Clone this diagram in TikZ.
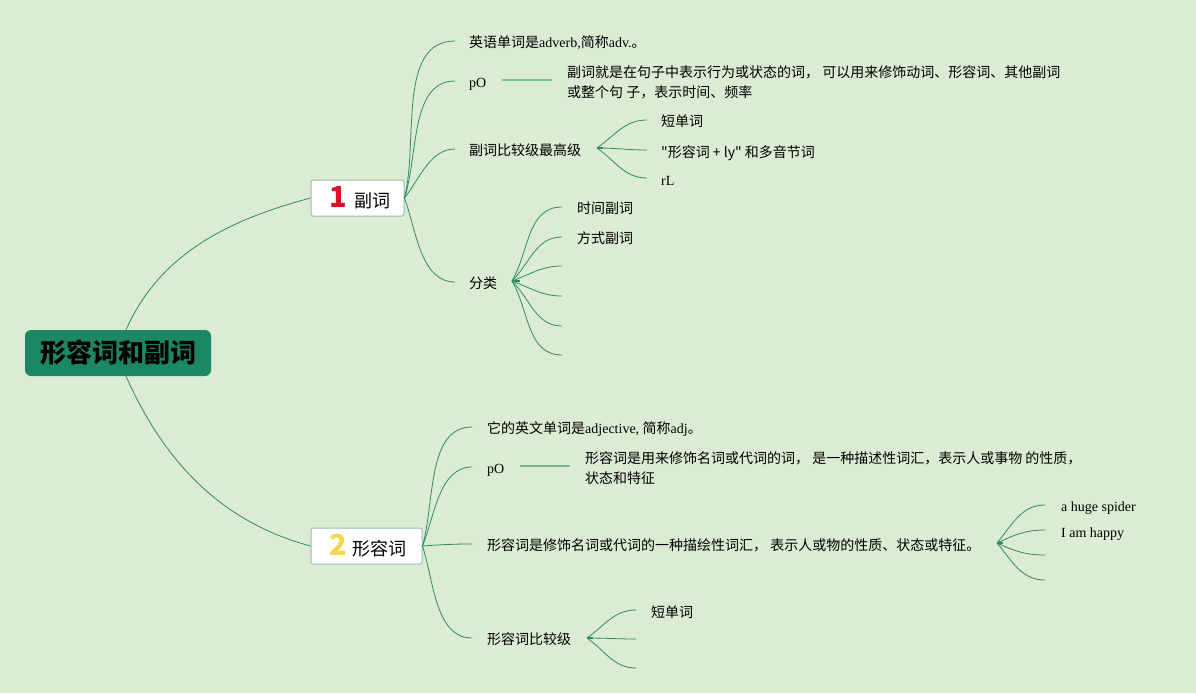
\documentclass[tikz,border=0pt]{standalone}
\usepackage{fontspec}
\setmainfont{Liberation Serif}
\newfontfamily\cjk{Noto Sans CJK SC}
\definecolor{bgc}{RGB}{220,235,211}
\definecolor{linkc}{RGB}{46,140,98}
\definecolor{rootc}{RGB}{27,135,100}
\definecolor{topicb}{RGB}{150,192,168}
\definecolor{poc}{RGB}{120,190,140}
\definecolor{redn}{RGB}{216,16,46}
\definecolor{yeln}{RGB}{242,214,75}
\begin{document}
\begin{tikzpicture}[x=1pt,y=1pt,
  txt/.style={anchor=west,inner sep=0pt,yshift=-2.5pt,text height=0.85em,text depth=0.12em,font=\fontsize{14}{20}\selectfont},
  ctxt/.style={txt,font=\fontsize{14}{20}\selectfont\cjk},
  para/.style={anchor=west,inner sep=0pt,yshift=-1.5pt,align=left,font=\fontsize{14}{20}\selectfont\cjk},
  link/.style={draw=linkc,line width=0.8pt},
  poline/.style={draw=poc,line width=1.6pt},
  stub/.style={draw=linkc,line width=2pt},
  topic/.style={draw=topicb,line width=1pt,fill=white,rounded corners=2pt,inner sep=0pt,minimum height=36pt},
  rootbox/.style={fill=rootc,rounded corners=6pt,inner sep=0pt,minimum width=186pt,minimum height=46pt,font=\fontsize{26}{30}\selectfont\cjk\bfseries}
]
\fill[bgc] (0,0) rectangle (1196,-693);
\useasboundingbox (0,0) rectangle (1196,-693);

% root and topics
\node[rootbox] (root) at (118,-353) {形容词和副词};
\node[topic,minimum width=93pt] (t1) at (357.5,-198) {\hspace*{5pt}{\fontsize{29}{29}\selectfont\cjk\bfseries\color{redn}1}\hspace{8pt}{\fontsize{18}{20}\selectfont\cjk 副词}};
\node[topic,minimum width=111pt] (t2) at (366.5,-546) {\hspace*{3pt}{\fontsize{29}{29}\selectfont\cjk\bfseries\color{yeln}2}\hspace{6pt}{\fontsize{18}{20}\selectfont\cjk 形容词}};

\draw[link] ([xshift=8pt]root.north) to[out=66,in=195,looseness=0.95] (t1.west);
\draw[link] ([xshift=8pt]root.south) to[out=-66,in=165,looseness=0.95] (t2.west);

% ---- branch 1 ----
\coordinate (a1e) at (455,-41);
\coordinate (a2e) at (455,-81);
\coordinate (a3e) at (455,-149);
\coordinate (a4e) at (455,-282);
\node[txt] (a1) at (469,-41) {{\cjk 英语单词是}adverb,{\cjk 简称}adv.{\cjk 。}};
\node[txt] (a2) at (469,-81) {pO};
\node[para] (a2d) at (567,-81) {副词就是在句子中表示行为或状态的词， 可以用来修饰动词、形容词、其他副词\\或整个句 子，表示时间、频率};
\node[ctxt] (a3) at (469,-149) {副词比较级最高级};
\node[ctxt] (a4) at (469,-282) {分类};

\draw[link] (t1.east) to[out=76,in=180,looseness=0.9] (a1e);
\draw[link] (t1.east) to[out=72,in=180,looseness=0.9] (a2e);
\draw[link] (t1.east) to[out=52,in=180,looseness=0.9] (a3e);
\draw[link] (t1.east) to[out=-70,in=180,looseness=0.9] (a4e);
\coordinate (a2l) at (502,-80);
\coordinate (a2r) at (552,-80);
\draw[poline] (a2l) -- (a2r);

% fan from 副词比较级最高级
\coordinate (f3) at (597,-148);
\draw[stub] (f3) -- ++(6,0);
\coordinate (f3a) at (647,-120);
\coordinate (f3b) at (647,-150);
\coordinate (f3c) at (647,-178);
\draw[link] (f3) to[out=35,in=180] (f3a);
\draw[link] (f3) to[out=0,in=180] (f3b);
\draw[link] (f3) to[out=-35,in=180] (f3c);
\node[ctxt] (a3a) at (661,-120) {短单词};
\node[ctxt] (a3b) at (661,-151) {"形容词 + ly" 和多音节词};
\node[txt] (a3c) at (661,-179) {rL};

% fan from 分类
\coordinate (f4) at (512,-281);
\draw[stub] (f4) -- ++(8,0);
\foreach \yy/\aa [count=\i] in {207/60,237/45,266/20,296/-20,326/-45,355/-60}{
  \coordinate (f4e\i) at (562,-\yy);
  \draw[link] (f4) to[out=\aa,in=180] (f4e\i);
}
\node[ctxt] (a4a) at (577,-207) {时间副词};
\node[ctxt] (a4b) at (577,-237) {方式副词};

% ---- branch 2 ----
\coordinate (b1e) at (472,-427);
\coordinate (b2e) at (472,-467);
\coordinate (b3e) at (472,-544);
\coordinate (b4e) at (472,-638);
\node[txt] (b1) at (487,-427) {{\cjk 它的英文单词是}adjective, {\cjk 简称}adj{\cjk 。}};
\node[txt] (b2) at (487,-467) {pO};
\node[para] (b2d) at (585,-467) {形容词是用来修饰名词或代词的词， 是一种描述性词汇，表示人或事物 的性质，\\状态和特征};
\node[ctxt] (b3) at (487,-544) {形容词是修饰名词或代词的一种描绘性词汇， 表示人或物的性质、状态或特征。};
\node[ctxt] (b4) at (487,-638) {形容词比较级};

\draw[link] (t2.east) to[out=74,in=180,looseness=0.9] (b1e);
\draw[link] (t2.east) to[out=68,in=180,looseness=0.9] (b2e);
\draw[link] (t2.east) to[out=4,in=180] (b3e);
\draw[link] (t2.east) to[out=-72,in=180,looseness=0.9] (b4e);
\coordinate (b2l) at (520,-466);
\coordinate (b2r) at (570,-466);
\draw[poline] (b2l) -- (b2r);

% fan from long sentence
\coordinate (g3) at (997,-543);
\draw[stub] (g3) -- ++(6,0);
\foreach \yy/\aa [count=\i] in {505/50,530/25,555/-25,580/-50}{
  \coordinate (g3e\i) at (1045,-\yy);
  \draw[link] (g3) to[out=\aa,in=180] (g3e\i);
}
\node[txt] (b3a) at (1061,-505) {a huge spider};
\node[txt] (b3b) at (1061,-531) {I am happy};

% fan from 形容词比较级
\coordinate (g4) at (587,-638);
\draw[stub] (g4) -- ++(6,0);
\foreach \yy/\aa [count=\i] in {610/35,639/0,668/-35}{
  \coordinate (g4e\i) at (636,-\yy);
  \draw[link] (g4) to[out=\aa,in=180] (g4e\i);
}
\node[ctxt] (b4a) at (651,-611) {短单词};
\end{tikzpicture}
\end{document}
